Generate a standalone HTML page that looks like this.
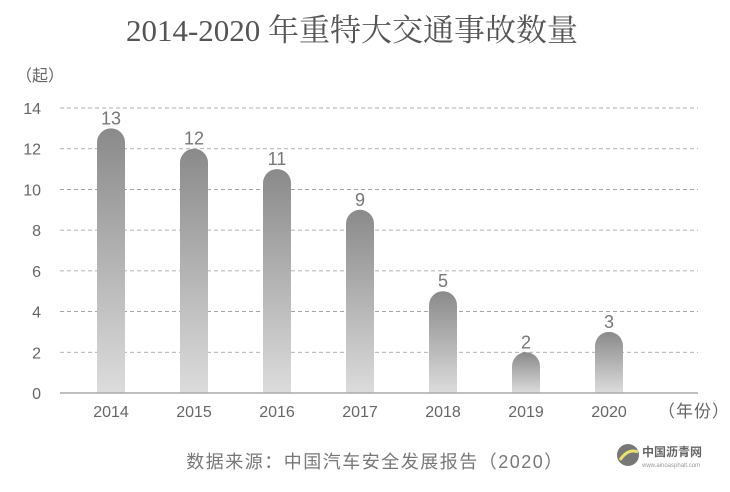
<!DOCTYPE html>
<html><head><meta charset="utf-8"><style>
body{margin:0;background:#fff;}
svg text{font-family:"Liberation Sans","Noto Sans CJK SC",sans-serif;}
</style></head><body>
<svg width="730" height="487" viewBox="0 0 730 487" xmlns="http://www.w3.org/2000/svg">
<defs>
<linearGradient id="g" x1="0" y1="0" x2="0" y2="1">
<stop offset="0" stop-color="#8a8a8a"/><stop offset="1" stop-color="#dcdcdc"/>
</linearGradient>
</defs>
<text x="352" y="41" text-anchor="middle" font-size="31" fill="#555" style="font-family:'Liberation Serif','Noto Serif CJK SC',serif">2014-2020 年重特大交通事故数量</text>
<text x="16" y="81" font-size="16" fill="#666">（起）</text>
<g id="grid"></g>
<g id="bars"></g>
<line x1="60" y1="393" x2="698" y2="393" stroke="#aaa" stroke-width="1.5"/>
<text x="694" y="417" text-anchor="middle" font-size="17" fill="#666" letter-spacing="1">（年份）</text>
<text x="375" y="468" text-anchor="middle" font-size="18" fill="#777" letter-spacing="1.5">数据来源：中国汽车安全发展报告（2020）</text>
<g>
<circle cx="628" cy="455" r="11" fill="#777"/>
<path d="M620 460 Q628 448 638 452" stroke="#e8e070" stroke-width="3" fill="none"/>
<text x="642" y="456" font-size="12" fill="#666" font-weight="bold">中国沥青网</text>
<text x="642" y="467" font-size="6" fill="#999">www.ainoasphalt.com</text>
</g>
</svg>
<script>
const years=["2014","2015","2016","2017","2018","2019","2020"];
const counts=[13,12,11,9,5,2,3];
const yTicks=[0,2,4,6,8,10,12,14];
const NS="http://www.w3.org/2000/svg";
const y0=393,yTop=108,yMax=14;
function ys(v){return y0-(y0-yTop)*v/yMax;}
function xs(i){return 111+i*83;}
const grid=document.getElementById('grid'),bars=document.getElementById('bars');
yTicks.forEach(t=>{
 if(t>0){const l=document.createElementNS(NS,'line');
 l.setAttribute('x1',60);l.setAttribute('x2',698);l.setAttribute('y1',ys(t));l.setAttribute('y2',ys(t));
 l.setAttribute('stroke','#999');l.setAttribute('stroke-dasharray','4,3');l.setAttribute('stroke-width','0.8');
 
 
 grid.appendChild(l);}
 const tx=document.createElementNS(NS,'text');
 tx.setAttribute('x',41);tx.setAttribute('y',ys(t)+6);tx.setAttribute('text-anchor','end');
 tx.setAttribute('font-size','16');tx.setAttribute('fill','#666');tx.textContent=t;
 
 
 grid.appendChild(tx);
});
counts.forEach((v,i)=>{
 const w=28,x=xs(i)-w/2,top=ys(v);
 const p=document.createElementNS(NS,'path');
 p.setAttribute('d',`M${x} ${y0} L${x} ${top+w/2} A${w/2} ${w/2} 0 0 1 ${x+w} ${top+w/2} L${x+w} ${y0} Z`);
 p.setAttribute('fill','url(#g)');
 
 
 bars.appendChild(p);
 const lb=document.createElementNS(NS,'text');
 lb.setAttribute('x',xs(i));lb.setAttribute('y',top-4);lb.setAttribute('text-anchor','middle');
 lb.setAttribute('font-size','18');lb.setAttribute('fill','#777');lb.textContent=v;
 
 
 bars.appendChild(lb);
 const xl=document.createElementNS(NS,'text');
 xl.setAttribute('x',xs(i));xl.setAttribute('y',417);xl.setAttribute('text-anchor','middle');
 xl.setAttribute('font-size','16');xl.setAttribute('fill','#666');xl.textContent=years[i];
 
 
 bars.appendChild(xl);
});
</script>
</body></html>
